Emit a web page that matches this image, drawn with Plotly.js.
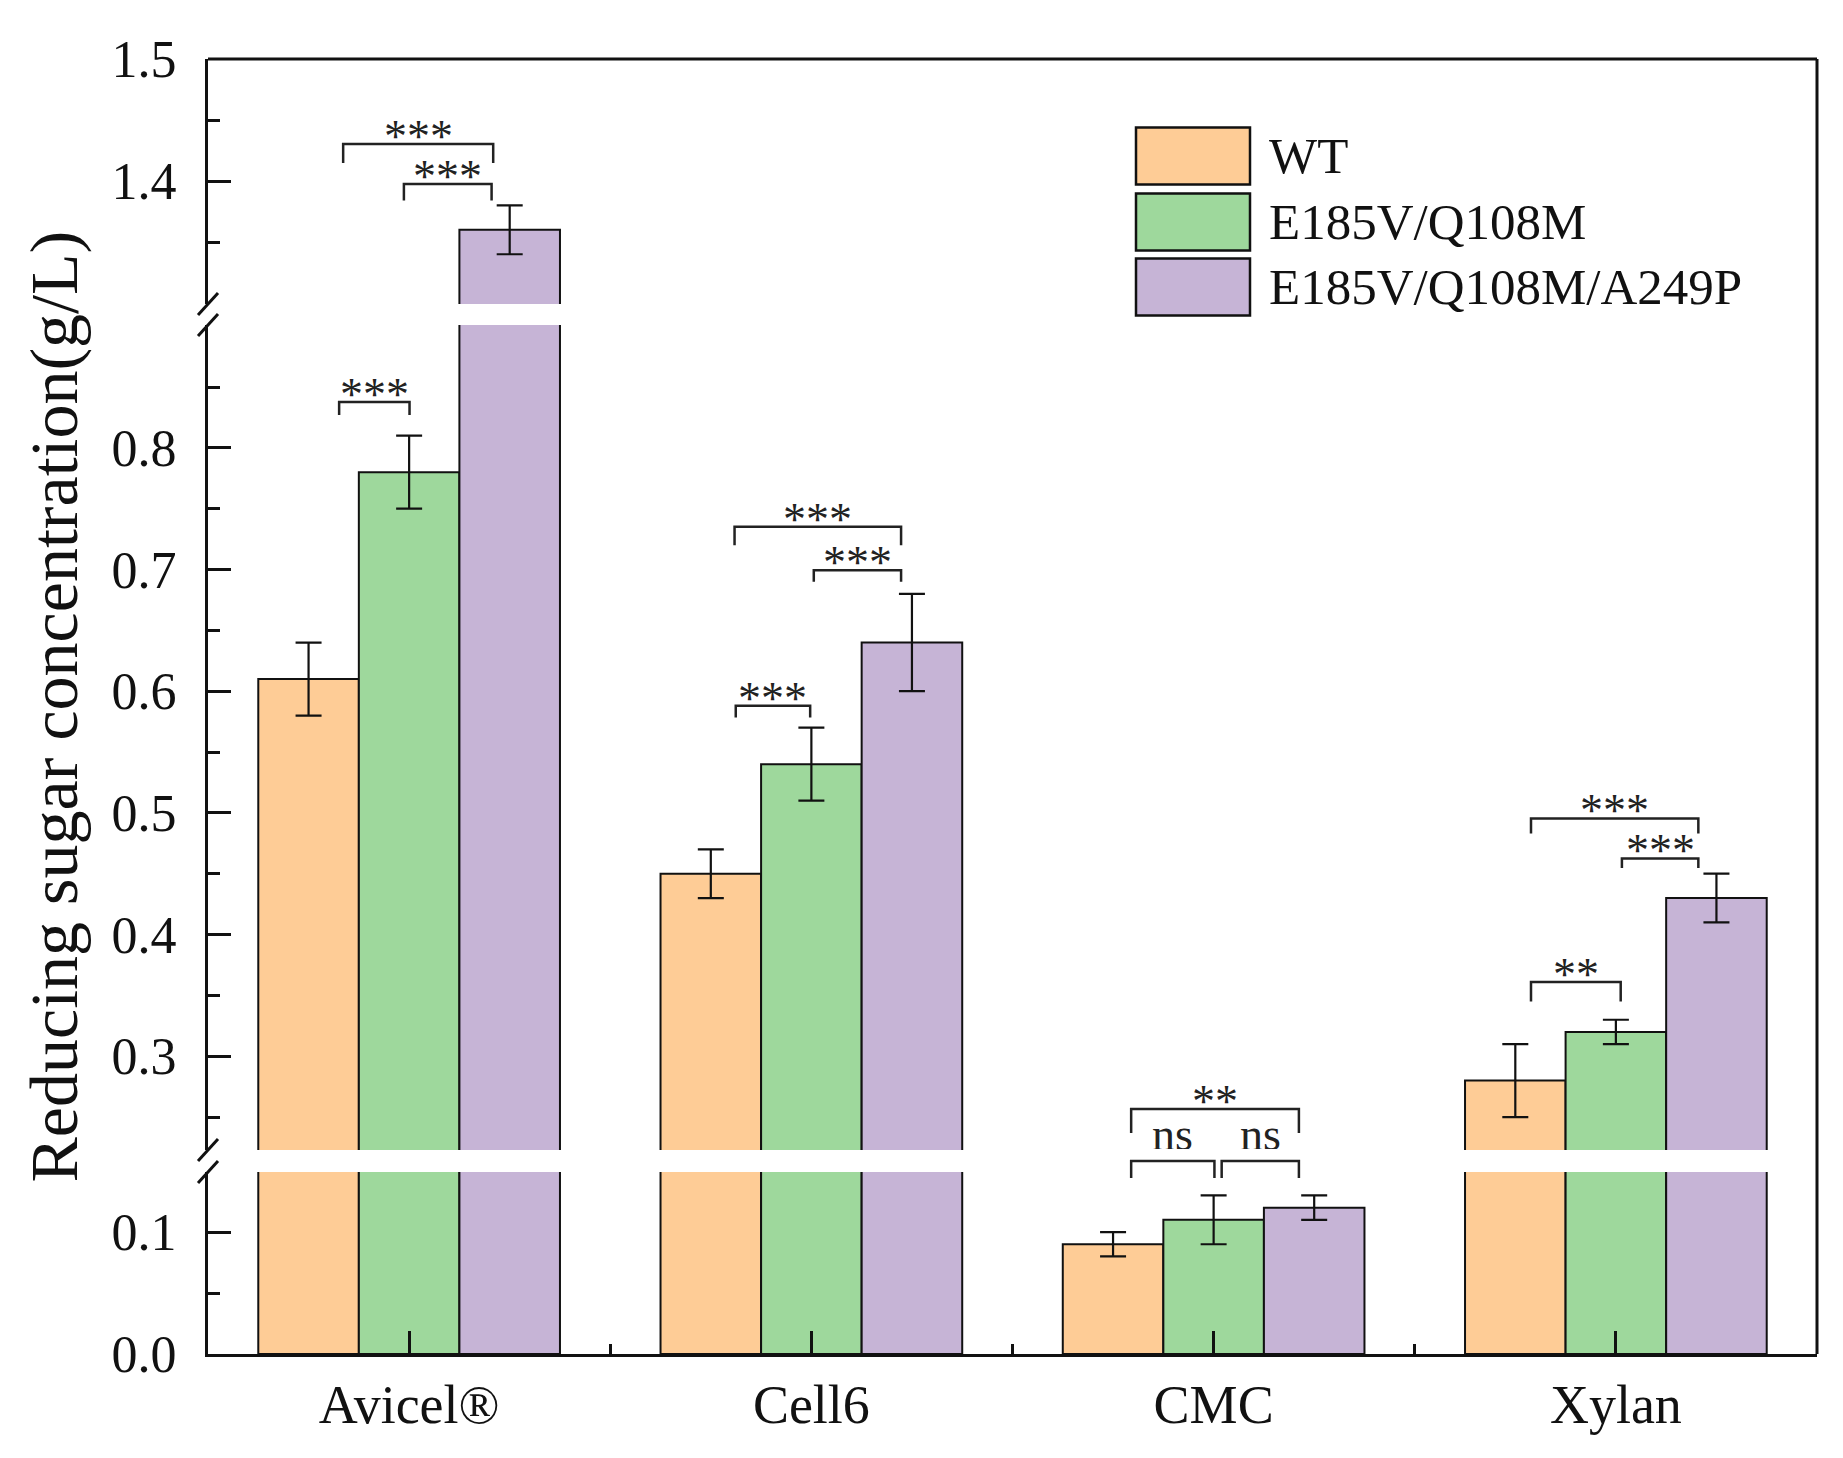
<!DOCTYPE html>
<html>
<head>
<meta charset="utf-8">
<script src="https://cdn.plot.ly/plotly-3.0.1.min.js"></script>
<style>
  html, body { margin: 0; padding: 0; background: #fff; }
  #chart { width: 1843px; height: 1458px; }
</style>
</head>
<body>
<div id="chart"></div>
<script>
var substrates = ["Avicel®", "Cell6", "CMC", "Xylan"];
var seriesNames = ["WT", "E185V/Q108M", "E185V/Q108M/A249P"];
var wtMean = [0.61, 0.45, 0.09, 0.28];
var wtErr = [0.03, 0.02, 0.01, 0.03];
var dmMean = [0.78, 0.54, 0.11, 0.32];
var dmErr = [0.03, 0.03, 0.02, 0.01];
var tmMean = [1.36, 0.64, 0.12, 0.43];
var tmErr = [0.02, 0.04, 0.01, 0.02];
var barColors = ["#FECC96", "#9ED89C", "#C6B4D6"];

// broken y axis, bottom -> top, all segments on the same scale
var segRanges = [[0, 0.1492], [0.2229, 0.901], [1.2992, 1.5]];
var segDomains = [[0, 0.1405], [0.1575, 0.7946], [0.8108, 1]];
var segMajor = [[0, 0.1], [0.3, 0.4, 0.5, 0.6, 0.7, 0.8], [1.4, 1.5]];
var segMinor = [[0.05], [0.25, 0.35, 0.45, 0.55, 0.65, 0.75, 0.85], [1.35, 1.45]];

// significance brackets: group, left, right, segment, line value, leg end value, label
var brackets = [
  [0, -0.164, 0.209, 2, 1.4303, 1.4148, "***"],
  [0, -0.013, 0.205, 2, 1.3975, 1.3840, "***"],
  [0, -0.174, 0.001, 1, 0.8377, 0.8270, "***"],
  [1, -0.191, 0.223, 1, 0.7352, 0.7200, "***"],
  [1, 0.006, 0.223, 1, 0.6995, 0.6900, "***"],
  [1, -0.188, -0.003, 1, 0.5880, 0.5785, "***"],
  [2, -0.205, 0.212, 1, 0.2566, 0.2370, "**"],
  [2, -0.205, 0.002, 0, 0.1582, 0.1443, "ns"],
  [2, 0.020, 0.212, 0, 0.1582, 0.1443, "ns"],
  [3, -0.211, 0.205, 1, 0.4954, 0.4830, "***"],
  [3, 0.015, 0.205, 1, 0.4626, 0.4547, "***"],
  [3, -0.211, 0.012, 1, 0.3611, 0.3450, "**"]
];

var means = [wtMean, dmMean, tmMean];
var errs = [wtErr, dmErr, tmErr];
var xPos = substrates.map(function (s, i) { return i; });
var serif = "Liberation Serif, Times New Roman, serif";
var plotW = 1843 - 208 - 26, plotH = 1458 - 59 - 104;

function toPaper(seg, v) {
  var r = segRanges[seg], d = segDomains[seg];
  return d[0] + (v - r[0]) / (r[1] - r[0]) * (d[1] - d[0]);
}

var traces = [];
for (var s = 0; s < segRanges.length; s++) {
  for (var k = 0; k < seriesNames.length; k++) {
    traces.push({
      type: "bar",
      name: seriesNames[k],
      x: xPos,
      y: means[k],
      xaxis: "x",
      yaxis: s === 0 ? "y" : "y" + (s + 1),
      marker: { color: barColors[k], line: { color: "#111", width: 2 } },
      error_y: { type: "data", array: errs[k], visible: true, color: "#111", thickness: 2.2, width: 13 },
      showlegend: false,
      hoverinfo: "skip"
    });
  }
}

var layout = {
  width: 1843,
  height: 1458,
  margin: { l: 208, r: 26, t: 59, b: 104 },
  paper_bgcolor: "#fff",
  plot_bgcolor: "rgba(0,0,0,0)",
  barmode: "group",
  bargap: 0.25,
  bargroupgap: 0,
  showlegend: false,
  font: { family: serif, color: "#111" },
  xaxis: {
    anchor: "y",
    range: [-0.5, 3.5],
    tickmode: "array",
    tickvals: xPos,
    ticktext: substrates,
    ticks: "inside",
    ticklen: 23,
    tickwidth: 3,
    tickcolor: "#111",
    minor: { tickmode: "array", tickvals: [0.5, 1.5, 2.5], ticks: "inside", ticklen: 10, tickwidth: 3, tickcolor: "#111" },
    showline: true,
    linecolor: "#111",
    linewidth: 3,
    showgrid: false,
    zeroline: false,
    tickfont: { family: serif, size: 54, color: "#111" },
    ticklabelstandoff: 1
  },
  shapes: [],
  annotations: []
};

for (var s = 0; s < segRanges.length; s++) {
  layout[s === 0 ? "yaxis" : "yaxis" + (s + 1)] = {
    anchor: "x",
    domain: segDomains[s],
    range: segRanges[s],
    tickmode: "array",
    tickvals: segMajor[s],
    tickformat: ".1f",
    ticks: "inside",
    ticklen: 23,
    tickwidth: 3,
    tickcolor: "#111",
    minor: { tickmode: "array", tickvals: segMinor[s], ticks: "inside", ticklen: 12, tickwidth: 3, tickcolor: "#111" },
    showline: true,
    linecolor: "#111",
    linewidth: 3,
    showgrid: false,
    zeroline: false,
    tickfont: { family: serif, size: 52, color: "#111" },
    ticklabelstandoff: 18
  };
}

// frame: top and right edges are unbroken
layout.shapes.push({ type: "line", xref: "paper", yref: "paper", x0: 0, x1: 1, y0: 1, y1: 1, line: { color: "#111", width: 3 } });
layout.shapes.push({ type: "line", xref: "paper", yref: "paper", x0: 1, x1: 1, y0: 0, y1: 1, line: { color: "#111", width: 3 } });

// break marks on the left axis
var dx = 10 / plotW, dy = 11 / plotH;
for (var s = 0; s < segRanges.length - 1; s++) {
  [segDomains[s][1], segDomains[s + 1][0]].forEach(function (yc) {
    layout.shapes.push({
      type: "line", xref: "paper", yref: "paper",
      x0: -dx, y0: yc - dy, x1: dx, y1: yc + dy,
      line: { color: "#111", width: 3 }
    });
  });
}

brackets.forEach(function (b) {
  var xa = b[0] + b[1], xb = b[0] + b[2];
  var yl = toPaper(b[3], b[4]), yb = toPaper(b[3], b[5]);
  layout.shapes.push({
    type: "path", xref: "x", yref: "paper",
    path: "M" + xa + "," + yb + " L" + xa + "," + yl + " L" + xb + "," + yl + " L" + xb + "," + yb,
    line: { color: "#222", width: 2.5 }
  });
  layout.annotations.push({
    xref: "x", yref: "paper",
    x: (xa + xb) / 2, y: yl,
    yanchor: "middle", xanchor: "center",
    yshift: b[6] === "ns" ? 27 : 8,
    height: 30,
    text: b[6], showarrow: false,
    font: { family: serif, size: 46, color: "#222" }
  });
});

// legend drawn by hand to get the large swatches
var legTop = [127.5, 193.5, 258.5];
seriesNames.forEach(function (name, k) {
  var y0 = (1458 - 104 - legTop[k]) / plotH;
  var y1 = (1458 - 104 - legTop[k] - 57) / plotH;
  layout.shapes.push({
    type: "rect", xref: "paper", yref: "paper",
    x0: (1136 - 208) / plotW, x1: (1250 - 208) / plotW, y0: y1, y1: y0,
    fillcolor: barColors[k], line: { color: "#111", width: 2.5 }
  });
  layout.annotations.push({
    xref: "paper", yref: "paper",
    x: (1267 - 208) / plotW, y: (y0 + y1) / 2,
    xanchor: "left", yanchor: "middle",
    text: name, showarrow: false,
    font: { family: serif, size: 51, color: "#111" }
  });
});

// y title
layout.annotations.push({
  xref: "paper", yref: "paper",
  x: (53 - 208) / plotW, y: 0.5,
  xanchor: "center", yanchor: "middle",
  textangle: -90,
  text: "Reducing sugar concentration(g/L)", showarrow: false,
  font: { family: serif, size: 68, color: "#111" }
});

Plotly.newPlot("chart", traces, layout, { staticPlot: true, displayModeBar: false });
</script>
</body>
</html>
